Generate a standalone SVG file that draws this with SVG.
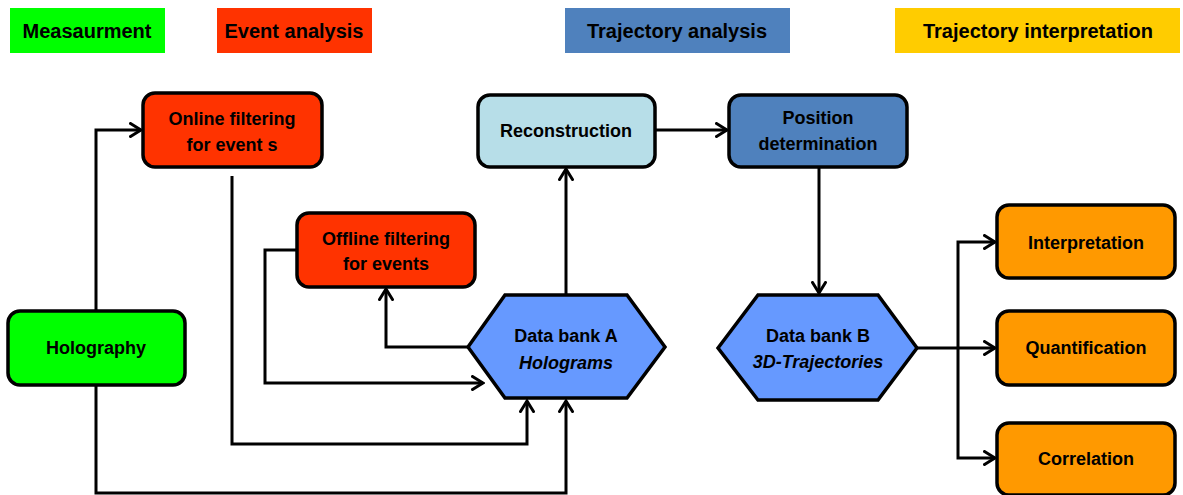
<svg xmlns="http://www.w3.org/2000/svg" width="1183" height="495" viewBox="0 0 1183 495">
<defs>
<marker id="arr" viewBox="0 0 14 16" refX="12" refY="8" markerWidth="14" markerHeight="16" markerUnits="userSpaceOnUse" orient="auto">
<path d="M1.5,1.5 L12,8 L1.5,14.5" fill="none" stroke="#000" stroke-width="3" stroke-linecap="round" stroke-linejoin="miter"/>
</marker>
</defs>
<style>
text{font-family:"Liberation Sans",Arial,sans-serif;font-weight:bold;fill:#000;text-anchor:middle}
.hdr{font-size:20px}
.lbl{font-size:18px}
.it{font-style:italic}
.box{stroke:#000;stroke-width:3.5}
.conn{fill:none;stroke:#000;stroke-width:3}
</style>
<rect width="1183" height="495" fill="#fff"/>
<g id="headers">
<g id="hdr-measurement"><rect x="10" y="8" width="155" height="45" fill="#00FF00"/><text class="hdr" x="87" y="38">Measaurment</text></g>
<g id="hdr-event"><rect x="217" y="8" width="155" height="45" fill="#FF3300"/><text class="hdr" x="294" y="38">Event analysis</text></g>
<g id="hdr-trajectory"><rect x="565" y="8" width="225" height="45" fill="#4F81BD"/><text class="hdr" x="677" y="38">Trajectory analysis</text></g>
<g id="hdr-interp"><rect x="895" y="8" width="285" height="45" fill="#FFCC00"/><text class="hdr" x="1038" y="38">Trajectory interpretation</text></g>
</g>
<g id="connectors">
<polyline class="conn" points="96,311 96,130 141,130" marker-end="url(#arr)"/>
<polyline class="conn" points="96,385 96,493 566,493 566,401" marker-end="url(#arr)"/>
<polyline class="conn" points="232,176 232,444 527,444 527,401" marker-end="url(#arr)"/>
<polyline class="conn" points="297,250 265,250 265,383 483,383" marker-end="url(#arr)"/>
<polyline class="conn" points="468,347 386,347 386,289" marker-end="url(#arr)"/>
<polyline class="conn" points="566,295 566,169" marker-end="url(#arr)"/>
<polyline class="conn" points="655,130 727,130" marker-end="url(#arr)"/>
<polyline class="conn" points="819,167 819,293" marker-end="url(#arr)"/>
<polyline class="conn" points="917,348 995,348" marker-end="url(#arr)"/>
<polyline class="conn" points="958,348 958,242 995,242" marker-end="url(#arr)"/>
<polyline class="conn" points="958,348 958,458 995,458" marker-end="url(#arr)"/>
</g>
<g id="online-filter"><rect class="box" x="143" y="93" width="179" height="74" rx="12" fill="#FF3300"/><text class="lbl" x="232" y="125">Online filtering</text><text class="lbl" x="232" y="151">for event s</text></g>
<g id="offline-filter"><rect class="box" x="297" y="213" width="178" height="74" rx="12" fill="#FF3300"/><text class="lbl" x="386" y="245">Offline filtering</text><text class="lbl" x="386" y="270">for events</text></g>
<g id="reconstruction"><rect class="box" x="478" y="95" width="177" height="72" rx="12" fill="#B7DEE8"/><text class="lbl" x="566" y="137">Reconstruction</text></g>
<g id="position"><rect class="box" x="729" y="95" width="178" height="72" rx="12" fill="#4F81BD"/><text class="lbl" x="818" y="124">Position</text><text class="lbl" x="818" y="150">determination</text></g>
<g id="holography"><rect class="box" x="8" y="311" width="177" height="74" rx="12" fill="#00FF00"/><text class="lbl" x="96" y="354">Holography</text></g>
<g id="databank-a"><polygon class="box" points="468,347 505,295 627,295 665,347 627,398 505,398" fill="#6699FF"/><text class="lbl" x="566" y="342">Data bank A</text><text class="lbl it" x="566" y="369">Holograms</text></g>
<g id="databank-b"><polygon class="box" points="718,348 758,295 878,295 917,348 878,400 758,400" fill="#6699FF"/><text class="lbl" x="818" y="342">Data bank B</text><text class="lbl it" x="818" y="368">3D-Trajectories</text></g>
<g id="interpretation"><rect class="box" x="997" y="205" width="178" height="73" rx="12" fill="#FF9900"/><text class="lbl" x="1086" y="249">Interpretation</text></g>
<g id="quantification"><rect class="box" x="997" y="311" width="178" height="74" rx="12" fill="#FF9900"/><text class="lbl" x="1086" y="354">Quantification</text></g>
<g id="correlation"><rect class="box" x="997" y="423" width="178" height="72" rx="12" fill="#FF9900"/><text class="lbl" x="1086" y="465">Correlation</text></g>
</svg>
